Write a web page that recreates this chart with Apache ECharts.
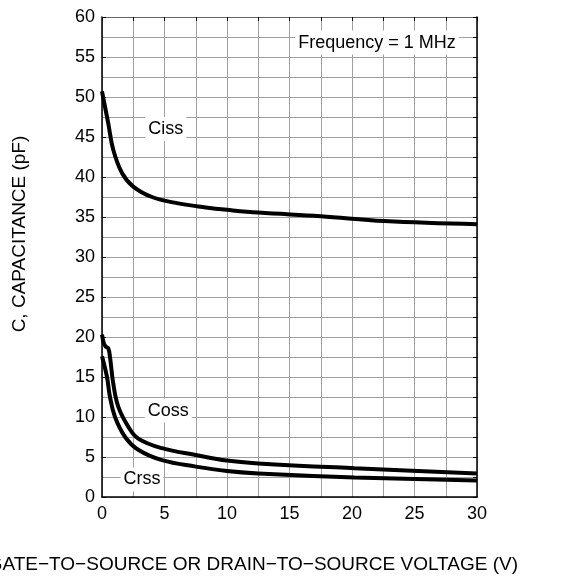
<!DOCTYPE html>
<html>
<head>
<meta charset="utf-8">
<script src="https://cdn.jsdelivr.net/npm/echarts@6/dist/echarts.min.js"></script>
<style>
  html, body { margin: 0; padding: 0; background: #fff; }
  #main { width: 574px; height: 577px; }
</style>
</head>
<body>
<div id="main"></div>
<script>
// values (V, pF)
var cissX = [0, 0.5, 0.9, 1.6, 2.5, 4, 6.1, 8.3, 10, 12.5, 17.5, 22.6, 30];
var cissY = [50.7, 46.7, 43.4, 40.5, 38.8, 37.5, 36.7, 36.2, 35.9, 35.55, 35.1, 34.5, 34.1];

var cossX = [0, 0.15, 0.3, 0.5, 0.64, 0.9, 1.3, 2.1, 2.9, 4.8, 7.5, 10, 12.5, 20.2, 30];
var cossY = [20.3, 19.2, 18.8, 18.6, 17.5, 14.2, 11.3, 8.8, 7.3, 6.1, 5.25, 4.55, 4.2, 3.6, 2.95];

var crssX = [0, 0.4, 0.64, 1.04, 1.85, 2.9, 4.8, 7.5, 10, 12.5, 20.2, 30];
var crssY = [17.6, 15, 12.5, 10, 7.5, 5.9, 4.6, 3.8, 3.25, 2.95, 2.45, 2.05];

var xTicks = [0, 5, 10, 15, 20, 25, 30];
var yTicks = [0, 5, 10, 15, 20, 25, 30, 35, 40, 45, 50, 55, 60];

// curve labels: text, x, y (data coords)
var labelText = ['Ciss', 'Coss', 'Crss', 'Frequency = 1 MHz'];
var labelX = [5.1, 5.3, 3.2, 22];
var labelY = [46.0, 10.8, 2.2, 56.8];

function pairs(xs, ys) {
    var out = [];
    for (var i = 0; i < xs.length; i++) out.push([xs[i], ys[i]]);
    return out;
}

var font = 'Liberation Sans, Arial, Helvetica, sans-serif';
var gridGray = '#a0a0a0';

function curve(name, xs, ys) {
    return {
        name: name,
        type: 'line',
        smooth: 0.4,
        symbol: 'none',
        data: pairs(xs, ys),
        lineStyle: { color: '#000', width: 4 },
        z: 3
    };
}

var option = {
    animation: false,
    backgroundColor: '#fff',
    grid: { left: 102, right: 97, top: 17, bottom: 80 },
    xAxis: [{
        type: 'value',
        min: 0, max: 30, interval: 5,
        axisLine: { show: true, onZero: false, lineStyle: { color: '#000', width: 1.5 } },
        axisTick: { show: false },
        minorTick: { show: false, splitNumber: 2 },
        splitLine: { show: true, lineStyle: { color: gridGray, width: 1 } },
        minorSplitLine: { show: true, lineStyle: { color: gridGray, width: 1 } },
        axisLabel: {
            color: '#000', fontSize: 18, fontFamily: font, margin: 8,
            formatter: function (v) { return xTicks.indexOf(v) >= 0 ? String(v) : ''; }
        }
    }, {
        type: 'value', position: 'top',
        min: 0, max: 30, interval: 2.5,
        axisLine: { show: true, onZero: false, lineStyle: { color: '#666', width: 1 } },
        axisTick: { show: true, inside: true, length: 4, lineStyle: { color: '#000' } },
        axisLabel: { show: false },
        splitLine: { show: false }
    }],
    yAxis: [{
        type: 'value',
        min: 0, max: 60, interval: 5,
        axisLine: { show: true, onZero: false, lineStyle: { color: '#000', width: 1.5 } },
        axisTick: { show: true, inside: true, length: 4, lineStyle: { color: '#000' } },
        minorTick: { show: false, splitNumber: 2 },
        splitLine: { show: true, lineStyle: { color: gridGray, width: 1 } },
        minorSplitLine: { show: true, lineStyle: { color: gridGray, width: 1 } },
        axisLabel: {
            color: '#000', fontSize: 18, fontFamily: font, margin: 7,
            formatter: function (v) { return yTicks.indexOf(v) >= 0 ? String(v) : ''; }
        }
    }, {
        type: 'value', position: 'right',
        min: 0, max: 60, interval: 2.5,
        axisLine: { show: true, onZero: false, lineStyle: { color: '#000', width: 1.5 } },
        axisTick: { show: true, inside: true, length: 4, lineStyle: { color: '#000' } },
        axisLabel: { show: false },
        splitLine: { show: false }
    }],
    series: [
        curve('Ciss', cissX, cissY),
        curve('Coss', cossX, cossY),
        curve('Crss', crssX, crssY)
    ]
};

var chart = echarts.init(document.getElementById('main'), null, { renderer: 'canvas' });
chart.setOption(option);

var g = [];
for (var i = 0; i < labelText.length; i++) {
    var p = chart.convertToPixel({ xAxisIndex: 0, yAxisIndex: 0 }, [labelX[i], labelY[i]]);
    g.push({
        type: 'text', x: p[0], y: p[1], z: 10,
        style: {
            text: labelText[i], fill: '#000', font: '18px ' + font,
            align: 'center', verticalAlign: 'middle',
            backgroundColor: '#fff', padding: [3, 3]
        }
    });
}
// axis titles
g.push({
    type: 'text', x: 518, y: 565, z: 10,
    style: {
        text: 'GATE\u2212TO\u2212SOURCE OR DRAIN\u2212TO\u2212SOURCE VOLTAGE (V)',
        fill: '#000', font: '19px ' + font, align: 'right', verticalAlign: 'middle'
    }
});
g.push({
    type: 'text', x: 20, y: 234, rotation: Math.PI / 2, z: 10,
    style: {
        text: 'C, CAPACITANCE (pF)',
        fill: '#000', font: '19px ' + font, align: 'center', verticalAlign: 'middle'
    }
});
chart.setOption({ graphic: g });
</script>
</body>
</html>
